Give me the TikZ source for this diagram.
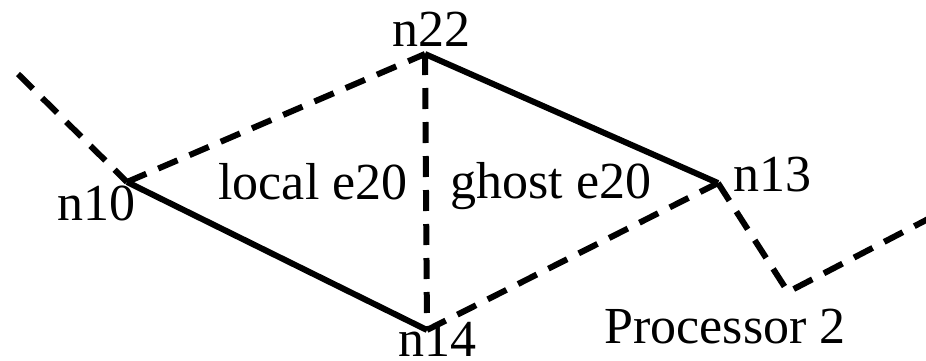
\documentclass[tikz,border=0pt]{standalone}
\usepackage{fontspec}
\setmainfont{Liberation Serif}
\begin{document}
\begin{tikzpicture}[x=1pt,y=-1pt,
  edge/.style={line width=6pt,black},
  ghostedge/.style={edge,dash pattern=on 21pt off 13pt},
  lbl/.style={anchor=base,inner sep=0pt,font=\fontsize{52}{60}\selectfont}]
\useasboundingbox (0,0) rectangle (926,360);
% mesh vertices
\coordinate (v22) at (425,54);
\coordinate (v10) at (127,182);
\coordinate (v14) at (427,330);
\coordinate (v13) at (718,183);
\coordinate (vl) at (18,74);
\coordinate (vc) at (788,292);
\coordinate (vr) at (930,218);
% edges
\draw[ghostedge] (vl) -- (v10);
\draw[ghostedge] (v10) -- (v22);
\draw[ghostedge] (v22) -- (v14);
\draw[ghostedge] (v14) -- (v13);
\draw[ghostedge] (v13) -- (vc) -- (vr);
\draw[edge] (v10) -- (v14);
\draw[edge] (v22) -- (v13);
% labels
\node[lbl] (t22) at (431,46) {n22};
\node[lbl] (t10) at (96,220) {n10};
\node[lbl] (t14) at (437,356) {n14};
\node[lbl] (t13) at (772,191) {n13};
\node[lbl] (tloc) at (313,199) {local e20};
\node[lbl] (tgh) at (551,198) {ghost e20};
\node[lbl] (tproc) at (725,343) {Processor 2};
\end{tikzpicture}
\end{document}
